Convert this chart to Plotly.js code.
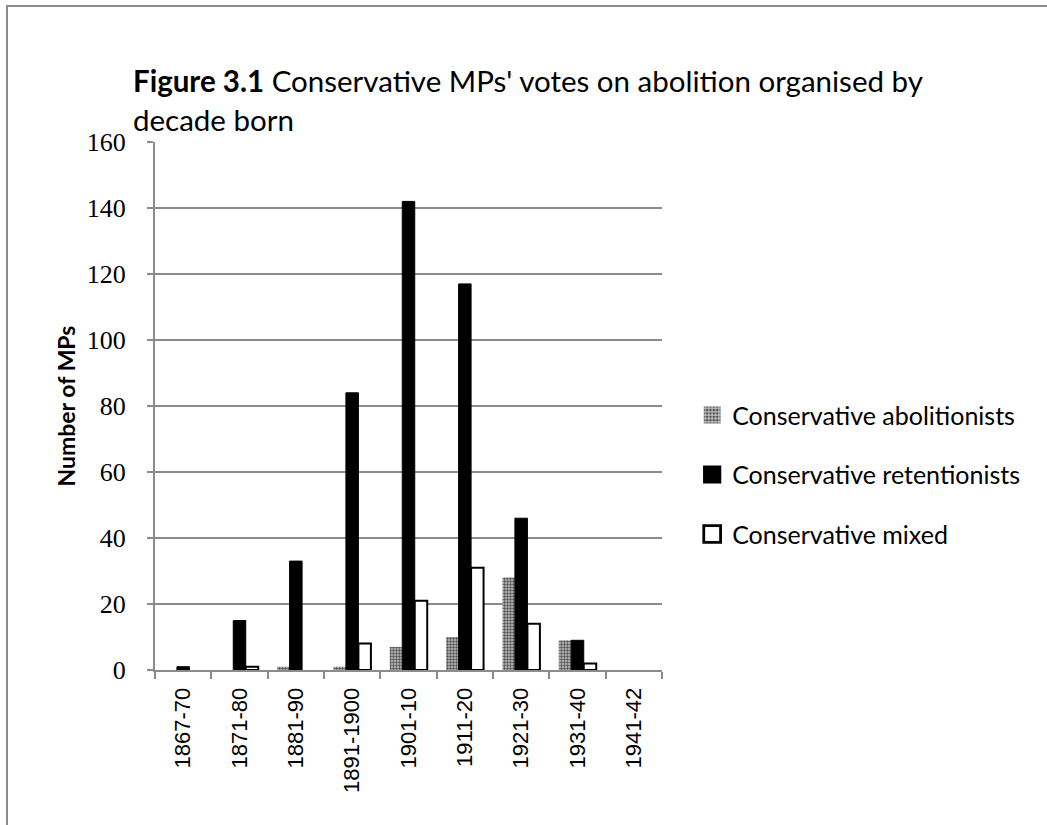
<!DOCTYPE html>
<html>
<head>
<meta charset="utf-8">
<script src="https://cdn.plot.ly/plotly-3.0.1.min.js"></script>
<style>
  html, body { margin: 0; padding: 0; background: #fff; }
  #wrap { position: relative; width: 1047px; height: 825px; overflow: hidden; }
  #chart { width: 1047px; height: 825px; }
  #frame { position: absolute; left: 6px; top: 5px; width: 1100px; height: 900px;
           border: 2px solid #8c8c8c; pointer-events: none; }
</style>
</head>
<body>
<div id="wrap">
  <div id="chart"></div>
  <div id="frame"></div>
</div>
<script>
// Decade of birth
const decades = ['1867-70', '1871-80', '1881-90', '1891-1900', '1901-10',
                 '1911-20', '1921-30', '1931-40', '1941-42'];

// Number of Conservative MPs in each voting group
const abolitionists = [0, 0, 1, 1, 7, 10, 28, 9, 0];
const retentionists = [1, 15, 33, 84, 142, 117, 46, 9, 0];
const mixed         = [0, 1, 0, 8, 21, 31, 14, 2, 0];

const yTicks = [0, 20, 40, 60, 80, 100, 120, 140, 160];

const grid = '#8c8c8c';

// empty groups get no bar at all (avoids a flat outline on the axis)
const orNull = arr => arr.map(v => (v === 0 ? null : v));

const traces = [
  {
    type: 'bar', name: 'Conservative abolitionists', x: decades, y: orNull(abolitionists),
    legendgroup: 'a',
    marker: {
      color: '#b8b8b8',
      line: { width: 0 },
      pattern: { shape: '.', fgcolor: '#505050', bgcolor: '#c4c4c4', size: 3, solidity: 0.5 }
    }
  },
  {
    type: 'bar', name: 'Conservative retentionists', x: decades, y: orNull(retentionists),
    legendgroup: 'b',
    marker: { color: '#000000', line: { color: '#000000', width: 1 } }
  },
  {
    type: 'bar', name: 'Conservative mixed', x: decades, y: orNull(mixed),
    legendgroup: 'c',
    marker: { color: '#ffffff', line: { color: '#000000', width: 2 } }
  }
];

const layout = {
  width: 1047, height: 825,
  paper_bgcolor: '#ffffff', plot_bgcolor: '#ffffff',
  margin: { l: 155, r: 385, t: 142, b: 155 },
  barmode: 'group', bargap: 0.335, bargroupgap: 0,
  showlegend: true,
  title: {
    text: '<b>Figure 3.1</b> Conservative MPs\' votes on abolition organised by<br>decade born',
    font: { family: 'Lato, "Noto Sans", sans-serif', size: 29.5, color: '#000' },
    xref: 'container', x: 0.127, xanchor: 'left',
    yref: 'container', y: 0.888, yanchor: 'top'
  },
  xaxis: {
    type: 'category',
    tickangle: -90,
    tickson: 'boundaries',
    ticks: 'outside', ticklen: 7, tickwidth: 2, tickcolor: grid,
    showline: true, linecolor: grid, linewidth: 2,
    showgrid: false,
    ticklabelstandoff: 7,
    tickfont: { family: '"Liberation Sans", Arial, sans-serif', size: 22, color: '#000' }
  },
  yaxis: {
    range: [0, 160],
    tickvals: yTicks,
    ticktext: yTicks.map(String),
    ticks: 'outside', ticklen: 6, tickwidth: 2, tickcolor: grid,
    showline: true, linecolor: grid, linewidth: 2,
    showgrid: true, gridcolor: grid, gridwidth: 2,
    zeroline: false,
    ticklabelstandoff: 16,
    tickfont: { family: '"Liberation Serif", "DejaVu Serif", serif', size: 26, color: '#000' },
    title: {
      text: '<b>Number of MPs</b>',
      font: { family: 'Lato, "Noto Sans", sans-serif', size: 23, color: '#000' },
      standoff: 5
    }
  },
  legend: {
    x: 1.0595, xanchor: 'left',
    y: 0.526, yanchor: 'top',
    traceorder: 'grouped', tracegroupgap: 24,
    font: { family: 'Lato, "Noto Sans", sans-serif', size: 25, color: '#000' },
    bgcolor: 'rgba(0,0,0,0)', itemwidth: 30
  }
};

// legend swatches drawn a little larger than the library default
function enlargeSwatches() {
  document.querySelectorAll('#chart .legendpoints path').forEach(p => {
    if (!p.dataset.scaled) {
      const t = p.getAttribute('transform') || '';
      p.setAttribute('transform', t + ' scale(1.4)');
      p.dataset.scaled = '1';
    }
  });
}

Plotly.newPlot('chart', traces, layout, { displayModeBar: false, staticPlot: true })
  .then(enlargeSwatches);
</script>
</body>
</html>
